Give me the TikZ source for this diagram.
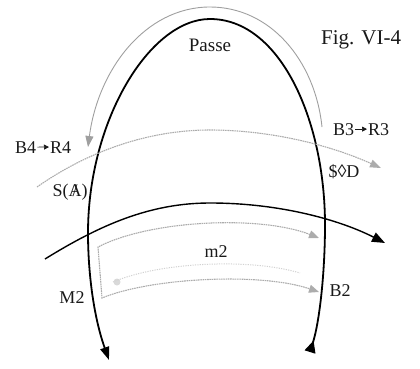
\documentclass[tikz,border=0pt]{standalone}
\usepackage{fontspec}
\setmainfont{Liberation Serif}
\usetikzlibrary{arrows.meta}
\tikzset{
  lbl/.style={font=\fontsize{18}{20}\selectfont, text=black!90, inner sep=0pt},
  arch/.style={line width=1.8pt, black},
  blackarc/.style={line width=1.4pt, black},
  grayarc/.style={line width=0.9pt, gray!75},
  graydash/.style={line width=1.1pt, gray!65, dash pattern=on 1.6pt off 0.7pt},
  faint/.style={line width=1pt, gray!35, dash pattern=on 1.2pt off 1.2pt},
  txtarrow/.style={line width=0.7pt, black!90, -{Triangle[length=5pt,width=5pt]}}
}
\begin{document}
\begin{tikzpicture}[x=1pt,y=-1pt]
\useasboundingbox (0,0) rectangle (420,369);
% main arch
\draw[arch, {Triangle[reversed,length=12pt,width=11pt]}-{Triangle[length=13pt,width=9pt]}]
  (310,352) .. controls (320,320) and (325,270) .. (325,225)
  .. controls (325,120) and (280,19) .. (210,19)
  .. controls (150,19) and (88,120) .. (88,233)
  .. controls (88,270) and (93,315) .. (109,360);
% Passe gray arc
\draw[grayarc, -{Triangle[length=11pt,width=8pt]}]
  (322,127) .. controls (315,60) and (270,7) .. (210,7)
  .. controls (145,7) and (98,70) .. (88,147);
% S(A) -> $<>D dashed
\draw[graydash, -{Triangle[length=11pt,width=8pt]}]
  (37,187) .. controls (90,150) and (150,130) .. (210,130)
  .. controls (270,130) and (330,145) .. (381,168);
% black horizontal arc
\draw[blackarc, -{Triangle[length=13pt,width=10pt]}]
  (45,259) .. controls (100,225) and (150,203) .. (210,203)
  .. controls (280,203) and (340,220) .. (385,243);
% box of two arrows
\draw[graydash, {Triangle[length=10pt,width=8pt]}-{Triangle[length=10pt,width=8pt]}]
  (319,238) .. controls (260,215) and (150,220) .. (98,247)
  -- (102,298) .. controls (150,278) and (260,272) .. (319,292);
% faint middle line
\fill[gray!30] (117,282) circle (3.5);
\draw[faint] (113,282) .. controls (160,262) and (250,258) .. (300,273);
% labels
\node[lbl, font=\fontsize{21}{23}\selectfont, anchor=base west] (fig) at (321,45) {Fig. VI-4};
\node[lbl, font=\fontsize{19}{21}\selectfont] (passe) at (210,45) {Passe};
\node[lbl, anchor=base west] (b3) at (333,135) {B3};
\node[lbl, anchor=base west] (r3) at (368,135) {R3};
\draw[txtarrow] ([xshift=1pt]b3.east) -- ([xshift=-1pt]r3.west);
\node[lbl, anchor=base west] (b4) at (15,153) {B4};
\node[lbl, anchor=base west] (r4) at (50,153) {R4};
\draw[txtarrow] ([xshift=1pt]b4.east) -- ([xshift=-1pt]r4.west);
\node[lbl] (sa) at (70,192) {S(\ooalign{A\cr\hidewidth/\hidewidth})};
\node[lbl] (sd) at (344,172) {\$◊D};
\node[lbl] (m2big) at (72,298) {M2};
\node[lbl] (b2) at (340,291) {B2};
\node[lbl] (m2) at (216,252) {m2};
\end{tikzpicture}
\end{document}
